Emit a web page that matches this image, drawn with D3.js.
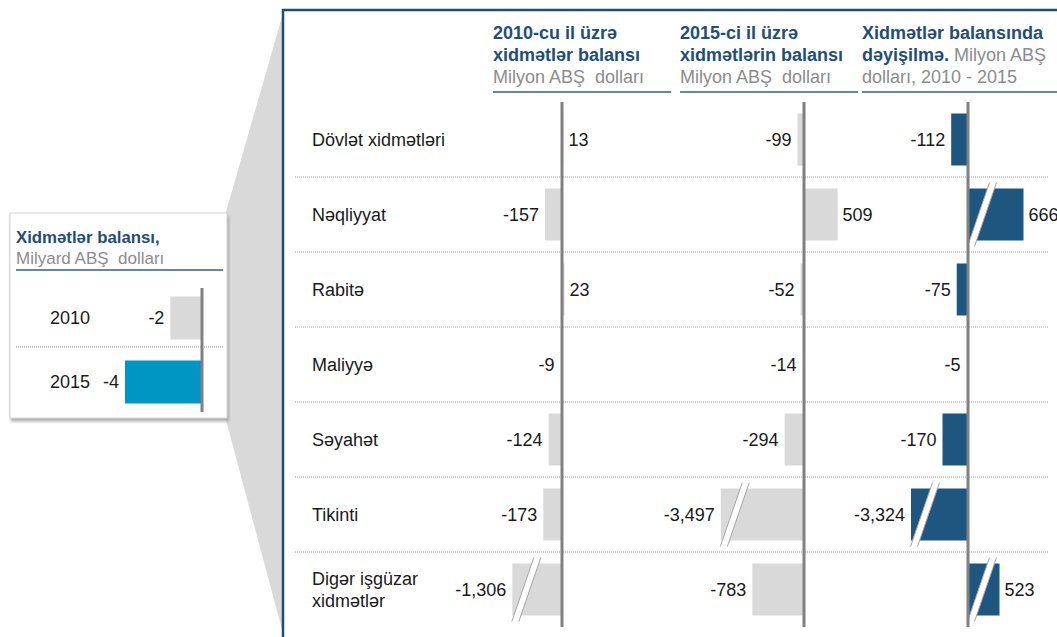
<!DOCTYPE html>
<html lang="az">
<head>
  <meta charset="utf-8">
  <title>Xidmətlər balansı</title>
  <script src="https://cdn.jsdelivr.net/npm/d3@7"></script>
  <style>
    body { margin: 0; background: #fff; }
    svg { display: block; font-family: 'Liberation Sans', Arial, sans-serif; }
  </style>
</head>
<body>
<div id="chart"></div>
<script>
  // categories and values (million USD)
  let categories = ['Dövlət xidmətləri', 'Nəqliyyat', 'Rabitə', 'Maliyyə', 'Səyahət', 'Tikinti', 'Digər işgüzar\nxidmətlər'];
  let balance2010 = [13, -157, 23, -9, -124, -173, -1306];
  let balance2015 = [-99, 509, -52, -14, -294, -3497, -783];
  let balanceChange = [-112, 666, -75, -5, -170, -3324, 523];
  // cut bars: value the broken bar is drawn to
  let shown2010 = [null, null, null, null, null, null, -460];
  let shown2015 = [null, null, null, null, null, -1260, null];
  let shownChange = [null, 370, null, null, null, -380, 210];

  // total balance, billion USD
  let totalYears = ['2010', '2015'];
  let totalValues = [-1.6, -3.9];

  let locale = d3.formatLocale({decimal: '.', thousands: ',', grouping: [3], currency: ['$', ''], minus: '-'});
  let fmt = locale.format(',');
  let fmtTotal = locale.format('.0f');

  let width = 1057, height = 637;
  let blue = '#1f4e79', grey = '#8c8c8c', barGrey = '#d9d9d9', axisGrey = '#808080';
  let fs = 18;

  let svg = d3.select('#chart').append('svg')
    .attr('width', width)
    .attr('height', height);

  let defs = svg.append('defs');
  defs.append('filter').attr('id', 'shadow')
    .attr('x', '-10%').attr('y', '-10%').attr('width', '130%').attr('height', '130%')
    .append('feDropShadow')
    .attr('dx', 1).attr('dy', 3).attr('stdDeviation', 1.5)
    .attr('flood-color', '#777').attr('flood-opacity', 0.6);

  // zoom wedge
  svg.append('polygon')
    .attr('points', '226,212 284,10 284,637 226,420')
    .attr('fill', '#d9d9d9');

  // ---------- small box on the left ----------
  let box = svg.append('g');
  box.append('rect')
    .attr('x', 10).attr('y', 213).attr('width', 217).attr('height', 205)
    .attr('fill', '#fff').attr('stroke', '#d4d4d4')
    .attr('filter', 'url(#shadow)');

  box.append('text').attr('x', 16).attr('y', 243)
    .attr('font-size', 16.8).attr('font-weight', 'bold').attr('fill', blue)
    .text('Xidmətlər balansı,');
  box.append('text').attr('x', 16).attr('y', 264)
    .attr('font-size', 17).attr('fill', grey)
    .attr('xml:space', 'preserve')
    .text('Milyard ABŞ  dolları');
  box.append('line').attr('x1', 16).attr('x2', 223).attr('y1', 270).attr('y2', 270)
    .attr('stroke', '#2e5f8a').attr('stroke-width', 1.5);

  let yTotal = d3.scaleBand().domain(totalYears).range([286, 414]);
  let xTotal = d3.scaleLinear().domain([-4, 0]).range([123, 202]);

  box.append('line').attr('x1', 16).attr('x2', 223)
    .attr('y1', yTotal('2015') - 3).attr('y2', yTotal('2015') - 3)
    .attr('stroke', '#999').attr('stroke-dasharray', '1,1');

  box.selectAll('.tbar')
    .data(totalYears)
    .enter().append('rect')
    .attr('x', (d, i) => xTotal(totalValues[i]))
    .attr('y', d => yTotal(d) + yTotal.bandwidth() / 2 - 21.5)
    .attr('width', (d, i) => xTotal(0) - xTotal(totalValues[i]))
    .attr('height', 43)
    .attr('fill', (d, i) => i == 0 ? barGrey : '#0096c4');

  box.selectAll('.tyear')
    .data(totalYears)
    .enter().append('text')
    .attr('x', 50)
    .attr('y', d => yTotal(d) + yTotal.bandwidth() / 2)
    .attr('dy', '0.35em')
    .attr('font-size', fs).attr('fill', '#1a1a1a')
    .text(d => d);

  box.selectAll('.tval')
    .data(totalYears)
    .enter().append('text')
    .attr('x', (d, i) => xTotal(totalValues[i]) - 6)
    .attr('y', d => yTotal(d) + yTotal.bandwidth() / 2)
    .attr('dy', '0.35em')
    .attr('text-anchor', 'end')
    .attr('font-size', fs).attr('fill', '#1a1a1a')
    .text((d, i) => fmtTotal(totalValues[i]));

  box.append('line')
    .attr('x1', xTotal(0)).attr('x2', xTotal(0))
    .attr('y1', 288).attr('y2', 412)
    .attr('stroke', axisGrey).attr('stroke-width', 3);

  // ---------- main panel ----------
  svg.append('rect')
    .attr('x', 283).attr('y', 10).attr('width', 820).attr('height', 700)
    .attr('fill', '#fff').attr('stroke', blue).attr('stroke-width', 2.5);

  let y = d3.scaleBand().domain(categories).range([102, 627]);
  let barH = 52;

  let columns = [
    {values: balance2010, shown: shown2010, color: barGrey, x: d3.scaleLinear().domain([-500, 500]).range([508, 616])},
    {values: balance2015, shown: shown2015, color: barGrey, x: d3.scaleLinear().domain([-500, 500]).range([771, 837])},
    {values: balanceChange, shown: shownChange, color: '#1f567f', x: d3.scaleLinear().domain([-500, 500]).range([893, 1043])}
  ];

  // headers
  let headers = [
    {x: 493, x2: 671, lines: [[['2010-cu il üzrə', true]], [['xidmətlər balansı', true]], [['Milyon ABŞ  dolları', false]]]},
    {x: 680, x2: 858, lines: [[['2015-ci il üzrə', true]], [['xidmətlərin balansı', true]], [['Milyon ABŞ  dolları', false]]]},
    {x: 862, x2: 1057, lines: [[['Xidmətlər balansında', true]], [['dəyişilmə.', true], [' Milyon ABŞ', false]], [['dolları, 2010 - 2015', false]]]}
  ];
  let baselines = [39, 61, 83];

  headers.forEach(h => {
    h.lines.forEach((parts, li) => {
      let t = svg.append('text')
        .attr('x', h.x).attr('y', baselines[li])
        .attr('xml:space', 'preserve')
        .attr('font-size', fs);
      parts.forEach(p => {
        t.append('tspan')
          .attr('font-weight', p[1] ? 'bold' : 'normal')
          .attr('fill', p[1] ? blue : grey)
          .text(p[0]);
      });
    });
    svg.append('line')
      .attr('x1', h.x).attr('x2', h.x2).attr('y1', 92).attr('y2', 92)
      .attr('stroke', '#2e5f8a').attr('stroke-width', 1.5);
  });

  // row separators
  svg.selectAll('.sep')
    .data(categories.slice(1))
    .enter().append('line')
    .attr('x1', 295).attr('x2', 1048)
    .attr('y1', d => y(d)).attr('y2', d => y(d))
    .attr('stroke', '#9a9a9a').attr('stroke-dasharray', '1,1');

  // category labels
  let cat = svg.selectAll('.cat')
    .data(categories)
    .enter().append('text')
    .attr('x', 312)
    .attr('font-size', fs).attr('fill', '#1a1a1a');
  cat.each(function(d) {
    let lines = d.split('\n');
    let mid = y(d) + y.bandwidth() / 2;
    lines.forEach((l, i) => {
      d3.select(this).append('tspan')
        .attr('x', 312)
        .attr('y', mid + (i - (lines.length - 1) / 2) * 22)
        .attr('dy', '0.35em')
        .text(l);
    });
  });

  function drawBreak(g, xl, yt, h) {
    let cx = xl + 14, top = yt - 6, bot = yt + h + 6, s = 11, w = 3.5;
    g.append('polygon')
      .attr('points', [[cx + s - w, top], [cx + s + w, top], [cx - s + w, bot], [cx - s - w, bot]].join(' '))
      .attr('fill', '#fff');
    [-w, w].forEach(o => {
      g.append('line')
        .attr('x1', cx + s + o).attr('y1', top)
        .attr('x2', cx - s + o).attr('y2', bot)
        .attr('stroke', '#a6a6a6').attr('stroke-width', 1);
    });
  }

  columns.forEach(col => {
    let g = svg.append('g');
    let x = col.x;
    let drawn = col.values.map((v, i) => col.shown[i] != null ? col.shown[i] : v);

    g.selectAll('rect')
      .data(categories)
      .enter().append('rect')
      .attr('x', (d, i) => Math.min(x(0), x(drawn[i])))
      .attr('y', d => y(d) + (y.bandwidth() - barH) / 2)
      .attr('width', (d, i) => Math.abs(x(drawn[i]) - x(0)))
      .attr('height', barH)
      .attr('fill', col.color);

    categories.forEach((d, i) => {
      if (col.shown[i] != null) {
        drawBreak(g, Math.min(x(0), x(drawn[i])), y(d) + (y.bandwidth() - barH) / 2, barH);
      }
    });

    g.append('line')
      .attr('x1', x(0)).attr('x2', x(0))
      .attr('y1', 102).attr('y2', 627)
      .attr('stroke', axisGrey).attr('stroke-width', 3);

    g.selectAll('.val')
      .data(categories)
      .enter().append('text')
      .attr('x', (d, i) => drawn[i] < 0 ? Math.min(x(drawn[i]), x(0) - 1.5) - 6 : Math.max(x(drawn[i]), x(0) + 1.5) + 5)
      .attr('y', d => y(d) + y.bandwidth() / 2)
      .attr('dy', '0.35em')
      .attr('text-anchor', (d, i) => drawn[i] < 0 ? 'end' : 'start')
      .attr('font-size', fs).attr('fill', '#1a1a1a')
      .text((d, i) => fmt(col.values[i]));
  });
</script>
</body>
</html>
